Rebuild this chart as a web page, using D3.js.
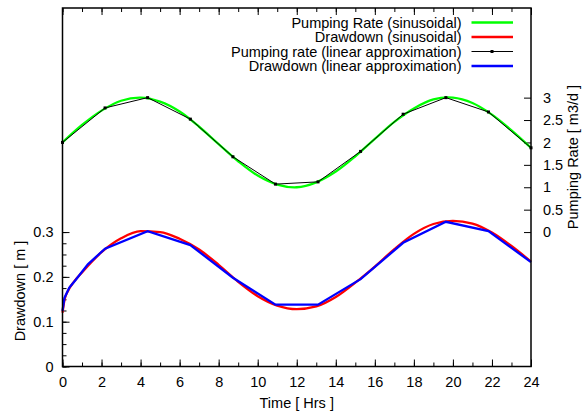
<!DOCTYPE html>
<html>
<head>
<meta charset="utf-8"/>
<title>Pumping rate and drawdown</title>
<script src="https://d3js.org/d3.v7.min.js"></script>
<style>
  body { margin: 0; background: #fff; }
  text { font-family: "Liberation Sans", Arial, sans-serif; font-size: 14.5px; fill: #000; }
  .frame { fill: none; stroke: #000; stroke-width: 1.5; }
  .tick line { stroke: #000; stroke-width: 1; }
</style>
</head>
<body>
<script>
// pumping rate (sinusoidal), read hourly
var pumpHours = [0,1,2,3,4,5,6,7,8,9,10,11,12,13,14,15,16,17,18,19,20,21,22,23,24];
var pumpSin = [2.0,2.39,2.71,2.93,3.0,2.91,2.69,2.35,1.96,1.58,1.26,1.06,1.0,1.11,1.35,1.69,2.08,2.46,2.76,2.96,3.0,2.88,2.62,2.27,1.88];

// pumping rate (linear approximation) nodes
var linHours = [0,2.18,4.36,6.55,8.73,10.91,13.09,15.27,17.45,19.64,21.82,24];
var pumpLin = [2.0,2.77,3.0,2.52,1.68,1.07,1.12,1.80,2.63,3.0,2.68,1.88];

// drawdown (sinusoidal)
var ddHours = [0,0.1,0.3,0.6,1,2,3,4,5,6,7,8,9,10,11,12,13,14,15,16,17,18,19,20,21,22,23,24];
var ddSin = [0.12,0.148,0.17,0.19,0.21,0.255,0.286,0.302,0.300,0.285,0.261,0.227,0.189,0.157,0.136,0.128,0.134,0.155,0.187,0.223,0.262,0.296,0.318,0.325,0.319,0.299,0.269,0.234];

// drawdown (linear approximation)
var ddLinHours = [0,0.1,0.35,0.65,1.3,2.18,4.36,6.55,8.73,10.91,13.09,15.27,17.45,19.64,21.82,24];
var ddLin = [0.124,0.153,0.176,0.192,0.228,0.263,0.302,0.271,0.198,0.138,0.138,0.195,0.276,0.323,0.302,0.233];

var legendLabels = ["Pumping Rate (sinusoidal)", "Drawdown (sinusoidal)",
                    "Pumping rate (linear approximation)", "Drawdown (linear approximation)"];
var legendColors = ["#00ff00", "#ff0000", "#000000", "#0000ff"];

var w = 582, h = 418;
var pL = 62.5, pR = 531, pT = 8, pB = 366.5;

var svg = d3.select("body").append("svg")
  .attr("width", w)
  .attr("height", h);

var x = d3.scaleLinear().domain([0, 24]).range([pL, pR]);
var yL = d3.scaleLinear().domain([0, 0.8]).range([pB, pT]);
var yR = d3.scaleLinear().domain([-3, 5]).range([pB, pT]);

function noDomain(g) { g.select(".domain").remove(); }

// axes (ticks inward, gnuplot style)
svg.append("g")
  .attr("transform", "translate(0," + pB + ")")
  .call(d3.axisBottom(x).tickValues(d3.range(0, 25, 1)).tickSize(-4).tickFormat(""))
  .call(noDomain);
svg.append("g")
  .attr("transform", "translate(0," + pB + ")")
  .call(d3.axisBottom(x).tickValues(d3.range(0, 25, 2)).tickSize(-7).tickPadding(10))
  .call(noDomain)
  .call(function(g) { g.selectAll("text").attr("y", 10).attr("dy", "0.71em"); });
svg.append("g")
  .attr("transform", "translate(0," + pT + ")")
  .call(d3.axisTop(x).tickValues(d3.range(0, 25, 1)).tickSize(-4).tickFormat(""))
  .call(noDomain);
svg.append("g")
  .attr("transform", "translate(0," + pT + ")")
  .call(d3.axisTop(x).tickValues(d3.range(0, 25, 2)).tickSize(-7).tickFormat(""))
  .call(noDomain);

svg.append("g")
  .attr("transform", "translate(" + pL + ",0)")
  .call(d3.axisLeft(yL).tickValues(d3.range(0, 0.31, 0.025)).tickSize(-4).tickFormat(""))
  .call(noDomain);
svg.append("g")
  .attr("transform", "translate(" + pL + ",0)")
  .call(d3.axisLeft(yL).tickValues([0, 0.1, 0.2, 0.3]).tickSize(-7)
        .tickFormat(function(d) { return d === 0 ? "0" : d3.format(".1f")(d); }))
  .call(noDomain)
  .call(function(g) { g.selectAll("text").attr("x", -9); });

svg.append("g")
  .attr("transform", "translate(" + pR + ",0)")
  .call(d3.axisRight(yR).tickValues([0, 0.5, 1, 1.5, 2, 2.5, 3]).tickSize(-7)
        .tickFormat(function(d) { return d3.format("")(d); }))
  .call(noDomain)
  .call(function(g) { g.selectAll("text").attr("x", 12); });

svg.selectAll(".tick text")
  .attr("font-family", "'Liberation Sans', Arial, sans-serif")
  .attr("font-size", "14.5px")
  .attr("fill", "#000");

// curves
var pumpLine = d3.line()
  .x(function(d) { return x(d[0]); })
  .y(function(d) { return yR(d[1]); });
var ddLine = d3.line()
  .x(function(d) { return x(d[0]); })
  .y(function(d) { return yL(d[1]); });

svg.append("path")
  .datum(d3.zip(pumpHours, pumpSin))
  .attr("d", pumpLine.curve(d3.curveCatmullRom))
  .attr("fill", "none").attr("stroke", legendColors[0]).attr("stroke-width", 2.3);

svg.append("path")
  .datum(d3.zip(ddHours, ddSin))
  .attr("d", ddLine.curve(d3.curveMonotoneX))
  .attr("fill", "none").attr("stroke", legendColors[1]).attr("stroke-width", 2.3);

var linPts = d3.zip(linHours, pumpLin);
svg.append("path")
  .datum(linPts)
  .attr("d", pumpLine.curve(d3.curveLinear))
  .attr("fill", "none").attr("stroke", legendColors[2]).attr("stroke-width", 1);
svg.selectAll("rect.pt")
  .data(linPts)
  .enter().append("rect")
  .attr("class", "pt")
  .attr("x", function(d) { return x(d[0]) - 1.5; })
  .attr("y", function(d) { return yR(d[1]) - 1.5; })
  .attr("width", 3).attr("height", 3)
  .attr("fill", "#000");

svg.append("path")
  .datum(d3.zip(ddLinHours, ddLin))
  .attr("d", ddLine.curve(d3.curveLinear))
  .attr("fill", "none").attr("stroke", legendColors[3]).attr("stroke-width", 2.3);

// frame
svg.append("rect").attr("class", "frame")
  .attr("x", pL).attr("y", pT)
  .attr("width", pR - pL).attr("height", pB - pT);

// legend
var legend = svg.selectAll("g.leg")
  .data(legendLabels)
  .enter().append("g")
  .attr("class", "leg")
  .attr("transform", function(d, i) { return "translate(0," + (22.5 + i * 14.5) + ")"; });
legend.append("text")
  .attr("x", 461.5).attr("y", 5)
  .attr("text-anchor", "end")
  .text(function(d) { return d; });
legend.append("line")
  .attr("x1", 471.5).attr("x2", 513)
  .attr("stroke", function(d, i) { return legendColors[i]; })
  .attr("stroke-width", function(d, i) { return i === 2 ? 1 : 2.3; });
legend.filter(function(d, i) { return i === 2; })
  .append("rect")
  .attr("x", 490.5).attr("y", -1.5).attr("width", 3).attr("height", 3)
  .attr("fill", "#000");

// axis titles
svg.append("text")
  .attr("x", (pL + pR) / 2).attr("y", 408)
  .attr("text-anchor", "middle")
  .text("Time [ Hrs ]");
svg.append("text")
  .attr("transform", "translate(25,291) rotate(-90)")
  .attr("text-anchor", "middle")
  .text("Drawdown [ m ]");
svg.append("text")
  .attr("transform", "translate(578,157) rotate(-90)")
  .attr("text-anchor", "middle")
  .text("Pumping Rate [ m3/d ]");
</script>
</body>
</html>
